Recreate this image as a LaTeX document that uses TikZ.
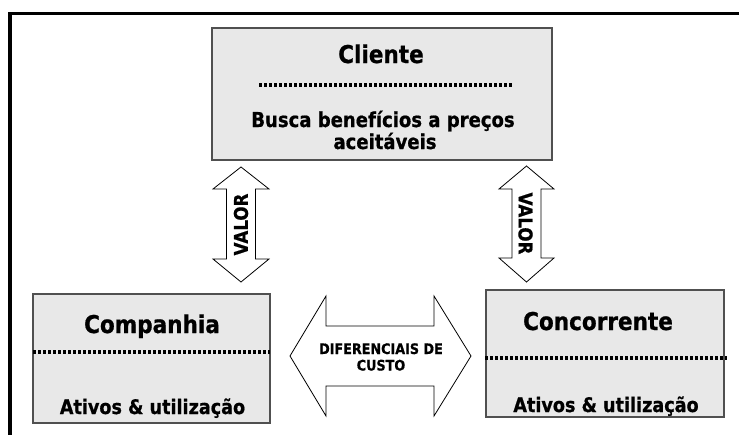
\documentclass[tikz,border=0pt]{standalone}
\usepackage{fontspec}
\setmainfont{DejaVu Sans}[FakeStretch=0.88, BoldFeatures={FakeBold=0.8}]
\definecolor{boxfill}{HTML}{E8E8E8}
\definecolor{boxline}{HTML}{505050}
\begin{document}
\begin{tikzpicture}[x=1pt,y=-1pt,
  box/.style={draw=boxline, fill=boxfill, line width=1.3pt, inner sep=0pt},
  titletxt/.style={inner sep=0pt, anchor=base, font=\bfseries\fontsize{24.5}{26}\selectfont},
  bodytxt/.style={inner sep=0pt, anchor=base, font=\bfseries\fontsize{20.5}{22}\selectfont},
  valortxt/.style={inner sep=0pt, font=\bfseries\fontsize{19}{20}\selectfont},
  difftxt/.style={inner sep=0pt, anchor=base, font=\bfseries\fontsize{14.5}{16}\selectfont},
  dotline/.style={line width=3.4pt, dash pattern=on 3pt off 2pt},
  blockarrow/.style={draw=black, fill=white, line width=0.8pt, line join=miter}
]
\useasboundingbox (0,0) rectangle (739,434);
\clip (0,0) rectangle (739,434);
\fill[white] (0,0) rectangle (739,434);
% frame
\draw[line width=3.5pt] (10,470) -- (10,13.5) -- (770,13.5);

% boxes
\node[box, minimum width=340pt, minimum height=132pt] (cli) at (382,94) {};
\node[box, minimum width=237pt, minimum height=129pt] (comp) at (151.5,358.5) {};
\node[box, minimum width=238pt, minimum height=127pt] (conc) at (605,353.5) {};

% Cliente contents
\node[titletxt] (clit) at (381,63) {Cliente};
\draw[dotline] (259,85) -- (513,85);
\node[bodytxt] (clib1) at (383,127) {Busca benefícios a preços};
\node[bodytxt] (clib2) at (385,149) {aceitáveis};

% Companhia contents
\node[titletxt] (compt) at (152,333) {Companhia};
\draw[dotline] (33,352) -- (270,352);
\node[bodytxt, font=\bfseries\fontsize{20}{22}\selectfont] (compb) at (152.5,414) {Ativos \& utilização};

% Concorrente contents
\node[titletxt] (conct) at (598,330) {Concorrente};
\draw[dotline] (485,358) -- (727,358);
\node[bodytxt, font=\bfseries\fontsize{20}{22}\selectfont] (concb) at (606,412) {Ativos \& utilização};

% vertical double arrows
\draw[blockarrow] (241,167) -- (269,189) -- (255.5,189) -- (255.5,259) -- (269,259) -- (241,282)
  -- (213,259) -- (226.5,259) -- (226.5,189) -- (213,189) -- cycle;
\node[valortxt, rotate=90] (val1) at (241,224.5) {VALOR};

\draw[blockarrow] (526.5,166) -- (554,189) -- (541,189) -- (541,258) -- (554,258) -- (526.5,282)
  -- (499,258) -- (512,258) -- (512,189) -- (499,189) -- cycle;
\node[valortxt, rotate=-90] (val2) at (525.5,223.5) {VALOR};

% horizontal double arrow
\draw[blockarrow] (290,356) -- (326,296) -- (326,326) -- (434,326) -- (434,296) -- (471,356)
  -- (434,416) -- (434,386) -- (326,386) -- (326,416) -- cycle;
\node[difftxt] (dif1) at (381,354) {DIFERENCIAIS DE};
\node[difftxt] (dif2) at (381,370.5) {CUSTO};
\end{tikzpicture}
\end{document}
